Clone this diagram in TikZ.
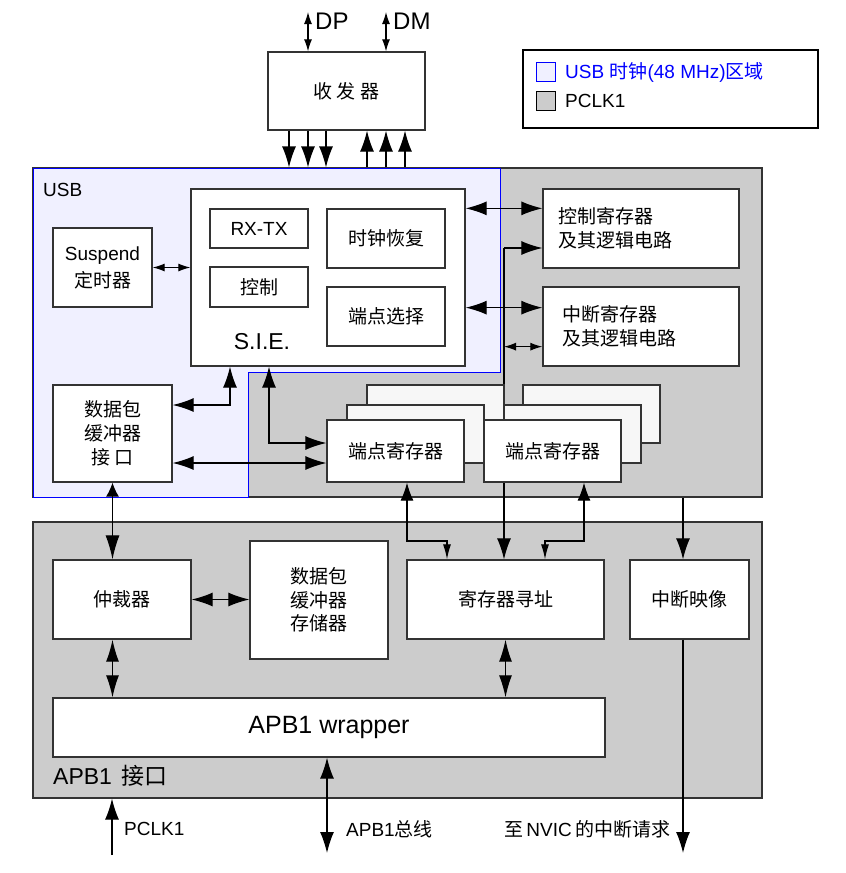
\documentclass[tikz,border=0pt]{standalone}
\usepackage{fontspec}
\setmainfont{Liberation Sans}
\newfontfamily\zh{Noto Sans CJK SC}
\usetikzlibrary{arrows.meta}

\definecolor{usbblue}{HTML}{F0F0FF}
\definecolor{pclkgray}{HTML}{CCCCCC}
\definecolor{stackgray}{HTML}{F7F7F7}
\definecolor{edgegray}{HTML}{333333}
\newcommand{\fsz}[2]{\fontsize{#1}{#2}\selectfont}

\begin{document}
\begin{tikzpicture}[x=1pt,y=-1pt,
        >={Latex[length=21pt,width=14pt]},
        link/.style={line width=1.2pt,draw=black},
        midtip/.style={>={Latex[length=22pt,width=13pt]}},
        smalltip/.style={>={Latex[length=12pt,width=8pt]}},
        sz/.style 2 args={minimum width=#1pt,minimum height=#2pt},
        area/.style={draw=edgegray,line width=1.2pt,fill=pclkgray,inner sep=0pt},
        block/.style={draw=edgegray,line width=1.3pt,fill=white,inner sep=0pt,
            font=\fsz{19}{23.5}\zh,align=center},
        epreg/.style={block,sz={137}{62}},
        stack/.style={block,fill=stackgray,sz={137}{58}},
        lbl/.style={inner sep=2pt,font=\fsz{19}{19}}]
        \useasboundingbox (0,0) rectangle (846,873);

        % clock domains
        \node[area,sz={729}{329}] (usbarea) at (397.5,332.5) {};
        \node[area,sz={729}{276}] (apbif) at (397.5,660) {};
        \filldraw[fill=usbblue,draw=blue,line width=1pt] (33,168) -- (500,168) -- (500,372)
            -- (248,372) -- (248,497) -- (33,497) -- cycle;
        \node[lbl,anchor=west] (usblbl) at (41,190) {USB};
        \node[lbl,anchor=west,font=\fsz{23}{23}] (apblbl) at (51,776) {APB1\kern9pt{\zh 接口}};

        % legend
        \node[draw=black,line width=1.2pt,sz={295}{78}] (legend) at (670.5,89) {};
        \node[draw=blue,fill=usbblue,line width=1pt,sz={19}{19}] (keyusb) at (546,72) {};
        \node[draw=black,fill=pclkgray,line width=1pt,sz={19}{19}] (keypclk) at (546,101) {};
        \node[lbl,anchor=west,text=blue] (keyusbtxt) at ([xshift=7pt]keyusb.east)
            {USB {\zh 时钟}(48 MHz){\zh 区域}};
        \node[lbl,anchor=west] (keypclktxt) at ([xshift=7pt]keypclk.east) {PCLK1};

        \node[block,sz={157}{78}] (trx) at (346.5,91) {收 发 器};

        % USB block
        \node[block,sz={274}{177}] (sie) at (328,277.5) {};
        \node[inner sep=0pt,font=\fsz{23}{23}] (sielbl) at (262,342) {S.I.E.};
        \node[block,sz={98}{39},font=\fsz{19}{19}] (rxtx) at (259,228.5) {RX-TX};
        \node[block,sz={98}{40}] (ctrl) at (259,287) {控制};
        \node[block,sz={118}{59}] (clkrec) at (386,238.5) {时钟恢复};
        \node[block,sz={118}{59}] (epsel) at (386,316.5) {端点选择};
        \node[block,sz={99}{79},font=\fsz{19}{27}] (susp) at (102.5,267.5) {Suspend\\{\zh 定时器}};
        \node[block,sz={119}{97},font=\fsz{19}{24}\zh] (pbif) at (112.5,433.5) {数据包\\缓冲器\\接 口};
        \node[block,sz={196}{79},text width=166pt,inner xsep=15pt,align=left,
            font=\fsz{19}{24}\zh] (ctrlreg) at (641,228.5) {控制寄存器\\及其逻辑电路};
        \node[block,sz={196}{79},text width=158pt,inner xsep=19pt,align=left,
            font=\fsz{19}{24}\zh] (intreg) at (641,326.5) {中断寄存器\\及其逻辑电路};

        % APB1 block
        \node[block,sz={138}{79}] (arb) at (122,599.5) {仲裁器};
        \node[block,sz={138}{118}] (pbmem) at (319,600) {数据包\\缓冲器\\存储器};
        \node[block,sz={197}{79}] (regaddr) at (505.5,599.5) {寄存器寻址};
        \node[block,sz={119}{79}] (intmap) at (689.5,599.5) {中断映像};
        \node[block,sz={552}{59},font=\fsz{25}{25}] (apbw) at (329,727.5) {APB1 wrapper};

        % register bus, behind the endpoint registers
        \coordinate (bus) at (504,248);
        \draw[link,->] (bus) -- (bus |- regaddr.north);

        \node[stack] (ep1c) at (435.5,414) {};
        \node[stack] (ep1b) at (415.5,434) {};
        \node[epreg] (ep1) at (395.5,451) {端点寄存器};
        \node[stack] (ep2c) at (591.5,414) {};
        \node[stack] (ep2b) at (572.5,434) {};
        \node[epreg] (ep2) at (552.5,451) {端点寄存器};

        % transceiver lines
        \coordinate (dp) at (308,12);
        \coordinate (dm) at (386,12);
        \draw[link,smalltip,<->] (dp) -- (dp |- trx.north);
        \draw[link,smalltip,<->] (dm) -- (dm |- trx.north);
        \node[lbl,anchor=west,font=\fsz{24}{24}] (dplbl) at (313,21) {DP};
        \node[lbl,anchor=west,font=\fsz{24}{24}] (dmlbl) at (391,21) {DM};
        \foreach \x in {289,308,326}
            \draw[link,->] (trx.south -| \x,0) -- (usbarea.north -| \x,0);
        \foreach \x in {367,386,405}
            \draw[link,->] (usbarea.north -| \x,0) -- (trx.south -| \x,0);

        \draw[link,smalltip,<->] (susp.east) -- (susp.east -| sie.west);
        \draw[link,<->] (rxtx.north -| sie.east) -- (rxtx.north -| ctrlreg.west);
        \draw[link,<->] (ctrl.south -| sie.east) -- (ctrl.south -| intreg.west);
        \draw[link,->] (bus) -- (bus -| ctrlreg.west);
        \draw[link,smalltip,<->] (bus |- epsel.south) -- (epsel.south -| intreg.west);

        \coordinate (j1) at (230,405);
        \coordinate (j2) at (269,443);
        \draw[link,<->] (j1 |- sie.south) -- (j1) -- (j1 -| pbif.east);
        \draw[link,<->] (j2 |- sie.south) -- (j2) -- (j2 -| ep1.west);
        \draw[link,<->] (pbif.east |- 0,463) -- (ep1.west |- 0,463);

        % between the two blocks
        \draw[link,{Latex[length=14pt,width=13pt]}-{Latex[length=24pt,width=14pt]}]
            (pbif.south) -- (pbif.south |- arb.north);
        \coordinate (j3) at (407,541);
        \coordinate (j4) at (447,541);
        \coordinate (j5) at (584,541);
        \coordinate (j6) at (545,541);
        \draw[link,{Latex[length=18pt,width=13pt]}-{Latex[length=15pt,width=8pt]}]
            (j3 |- ep1.south) -- (j3) -- (j4) -- (j4 |- regaddr.north);
        \draw[link,{Latex[length=18pt,width=13pt]}-{Latex[length=15pt,width=8pt]}]
            (j5 |- ep2.south) -- (j5) -- (j6) -- (j6 |- regaddr.north);
        \coordinate (irq) at (683,853);
        \draw[link,->] (irq |- usbarea.south) -- (irq |- intmap.north);

        \draw[link,<->] (arb.east) -- (arb.east -| pbmem.west);
        \draw[link,midtip,<->] (pbif.south |- arb.south) -- (pbif.south |- apbw.north);
        \draw[link,midtip,<->] (regaddr.south) -- (regaddr.south |- apbw.north);

        % outside signals
        \coordinate (apbbus) at (327,853);
        \coordinate (pclk) at (112,855);
        \draw[link,->] (irq |- intmap.south) -- (irq);
        \draw[link,<->] (apbbus |- apbw.south) -- (apbbus);
        \draw[link,->] (pclk) -- (pclk |- apbif.south);
        \node[lbl,anchor=west] (pclklbl) at (122,829) {PCLK1};
        \node[lbl,anchor=west] (apbbuslbl) at (344,829) {APB1{\zh 总线}};
        \node[lbl,anchor=east] (irqlbl) at (673,829) {{\zh 至}\kern3pt NVIC\kern4pt{\zh 的中断请求}};
\end{tikzpicture}
\end{document}
